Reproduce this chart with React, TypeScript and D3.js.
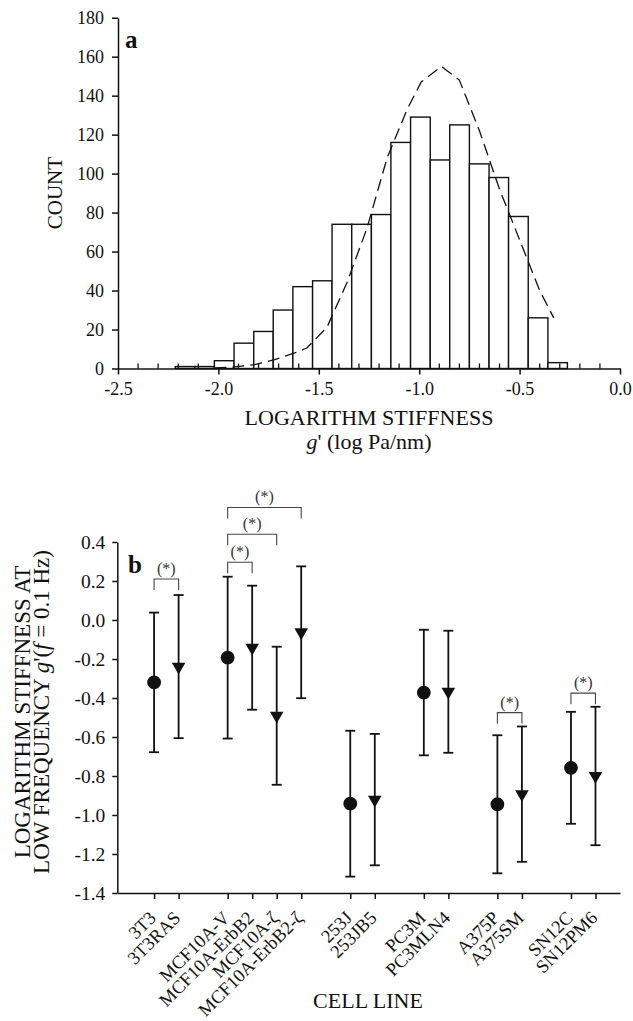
import React, { useRef, useEffect } from 'react';
import * as d3 from 'd3';

// ---- panel a: histogram of log stiffness ----
const binEdges = [-2.215, -2.117, -2.02, -1.922, -1.824, -1.727, -1.629, -1.531, -1.434, -1.336, -1.238,
  -1.141, -1.043, -0.945, -0.848, -0.75, -0.652, -0.555, -0.457, -0.359, -0.262];
const counts = [1, 1, 4, 13, 19, 30, 42, 45, 74, 74, 79, 116, 129, 107, 125, 105, 98, 78, 26, 3];
const fitX = [-2.02, -1.92, -1.82, -1.72, -1.62, -1.56, -1.46, -1.36, -1.26, -1.16, -1.06, -0.99, -0.89,
  -0.8, -0.7, -0.6, -0.5, -0.4, -0.33];
const fitY = [0.3, 0.8, 2, 4.5, 8, 10.5, 21, 44, 72, 108, 133, 147, 155, 148, 122, 92, 66, 40, 26];
const xTicksA = [-2.5, -2.0, -1.5, -1.0, -0.5, 0.0];
const yTicksA = [0, 20, 40, 60, 80, 100, 120, 140, 160, 180];

// ---- panel b: stiffness per cell line ----
const cellLines = ['3T3', '3T3RAS', 'MCF10A-V', 'MCF10A-ErbB2', 'MCF10A-ζ', 'MCF10A-ErbB2-ζ', '253J', '253JB5',
  'PC3M', 'PC3MLN4', 'A375P', 'A375SM', 'SN12C', 'SN12PM6'];
const cellPos = [1, 2, 4, 5, 6, 7, 9, 10, 12, 13, 15, 16, 18, 19];
const markerKind = ['circle', 'triangle', 'circle', 'triangle', 'triangle', 'triangle', 'circle', 'triangle',
  'circle', 'triangle', 'circle', 'triangle', 'circle', 'triangle'];
const means = [-0.32, -0.239, -0.193, -0.142, -0.491, -0.063, -0.942, -0.921, -0.372, -0.368, -0.945, -0.893, -0.758, -0.8];
const sds = [0.358, 0.367, 0.415, 0.318, 0.354, 0.338, 0.374, 0.337, 0.322, 0.313, 0.354, 0.347, 0.287, 0.355];
const yTicksB = [0.4, 0.2, 0.0, -0.2, -0.4, -0.6, -0.8, -1.0, -1.2, -1.4];
// significance brackets: [from index, to index, level]
const brackets: [number, number, number][] = [
  [0, 1, 0.21], [2, 3, 0.296], [2, 4, 0.44], [2, 5, 0.577], [10, 11, -0.475], [12, 13, -0.375],
];

const FONT = '"Liberation Serif", "Times New Roman", Times, serif';
const INK = '#111';

export default function App() {
  const svgRef = useRef<SVGSVGElement>(null);

  useEffect(() => {
    const svg = d3.select(svgRef.current);
    svg.selectAll('*').remove();

    // axis helper: d3 puts sans-serif on the group, override it
    const styleAxis = (g, size) => {
      g.attr('font-family', FONT).style('font-family', FONT).attr('font-size', size);
      g.selectAll('text').style('font-family', FONT).attr('font-size', size);
      g.selectAll('line,path').attr('stroke-width', 1.5);
    };

    // ================= panel a =================
    const xA = d3.scaleLinear().domain([-2.5, 0]).range([118, 620]);
    const yA = d3.scaleLinear().domain([0, 180]).range([368.5, 17.7]);
    const gA = svg.append('g');

    gA.selectAll('.bar')
      .data(counts)
      .join('rect')
      .attr('class', 'bar')
      .attr('x', (d, i) => xA(binEdges[i]))
      .attr('width', (d, i) => xA(binEdges[i + 1]) - xA(binEdges[i]))
      .attr('y', d => yA(d))
      .attr('height', d => yA(0) - yA(d))
      .attr('fill', '#fff')
      .attr('stroke', INK)
      .attr('stroke-width', 1.4);

    const fitLine = d3.line<number>().x((d, i) => xA(fitX[i])).y(d => yA(d));
    gA.append('path')
      .attr('d', fitLine(fitY))
      .attr('fill', 'none')
      .attr('stroke', INK)
      .attr('stroke-width', 1.3)
      .attr('stroke-dasharray', '12,6');

    // minor ticks, pointing up
    const minor = d3.range(-24, 0).map(k => k / 10).filter(v => Math.abs(v * 2 - Math.round(v * 2)) > 1e-6);
    gA.selectAll('.minor')
      .data(minor)
      .join('line')
      .attr('x1', d => xA(d)).attr('x2', d => xA(d))
      .attr('y1', yA(0)).attr('y2', yA(0) - 5)
      .attr('stroke', INK).attr('stroke-width', 1.3);

    const xAxisA = d3.axisBottom(xA).tickValues(xTicksA).tickSize(6).tickSizeOuter(0).tickPadding(8)
      .tickFormat(d => (+d).toFixed(1));
    gA.append('g')
      .attr('transform', `translate(0,${yA(0)})`)
      .attr('color', INK)
      .call(xAxisA)
      .call(g => styleAxis(g, 18));

    const yAxisA = d3.axisLeft(yA).tickValues(yTicksA).tickSize(6).tickSizeOuter(0).tickPadding(8);
    gA.append('g')
      .attr('transform', `translate(${xA(-2.5)},0)`)
      .attr('color', INK)
      .call(yAxisA)
      .call(g => styleAxis(g, 18));

    const txt = (g, x, y, size) => g.append('text').attr('x', x).attr('y', y).attr('font-size', size)
      .style('font-family', FONT).attr('fill', INK);

    txt(gA, 125, 48, 25).attr('font-weight', 'bold').text('a');
    txt(gA, 0, 0, 21)
      .attr('transform', `translate(62,${(yA(0) + yA(180)) / 2}) rotate(-90)`)
      .attr('text-anchor', 'middle').text('COUNT');
    txt(gA, 369, 425, 22).attr('text-anchor', 'middle').text('LOGARITHM STIFFNESS');
    const sub = txt(gA, 369, 449, 22).attr('text-anchor', 'middle');
    sub.append('tspan').attr('font-style', 'italic').text('g');
    sub.append('tspan').text("' (log Pa/nm)");

    // ================= panel b =================
    const xB = d3.scaleLinear().domain([-0.5, 20]).range([117.3, 620]);
    const yB = d3.scaleLinear().domain([-1.4, 0.4]).range([893, 542]);
    const gB = svg.append('g');

    const xAxisB = d3.axisBottom(xB).tickValues(cellPos).tickSize(6).tickSizeOuter(0).tickFormat(() => '');
    gB.append('g')
      .attr('transform', `translate(0,${yB(-1.4)})`)
      .attr('color', INK)
      .call(xAxisB)
      .call(g => styleAxis(g, 18));

    const yAxisB = d3.axisLeft(yB).tickValues(yTicksB).tickSize(5).tickSizeOuter(0).tickPadding(7)
      .tickFormat(d => (+d).toFixed(1));
    gB.append('g')
      .attr('transform', `translate(${xB(-0.5)},0)`)
      .attr('color', INK)
      .call(yAxisB)
      .call(g => styleAxis(g, 19.5));

    // error bars
    const bars = gB.selectAll('.err').data(means).join('g').attr('class', 'err');
    bars.append('line')
      .attr('x1', (d, i) => xB(cellPos[i])).attr('x2', (d, i) => xB(cellPos[i]))
      .attr('y1', (d, i) => yB(d + sds[i])).attr('y2', (d, i) => yB(d - sds[i]))
      .attr('stroke', INK).attr('stroke-width', 1.8);
    [1, -1].forEach(s => {
      bars.append('line')
        .attr('x1', (d, i) => xB(cellPos[i]) - 5).attr('x2', (d, i) => xB(cellPos[i]) + 5)
        .attr('y1', (d, i) => yB(d + s * sds[i])).attr('y2', (d, i) => yB(d + s * sds[i]))
        .attr('stroke', INK).attr('stroke-width', 1.8);
    });

    // markers
    const tri = d3.symbol().type(d3.symbolTriangle).size(80);
    const circ = d3.symbol().type(d3.symbolCircle).size(150);
    gB.selectAll('.mark')
      .data(means)
      .join('path')
      .attr('class', 'mark')
      .attr('d', (d, i) => markerKind[i] === 'circle' ? circ() : tri())
      .attr('transform', (d, i) => `translate(${xB(cellPos[i])},${yB(d)})` + (markerKind[i] === 'triangle' ? ' rotate(180)' : ''))
      .attr('fill', INK);

    // significance brackets
    const br = gB.selectAll('.bracket').data(brackets).join('g').attr('class', 'bracket');
    br.append('path')
      .attr('d', d => {
        const x1 = xB(cellPos[d[0]]), x2 = xB(cellPos[d[1]]), y = yB(d[2]);
        return `M${x1},${y + 11}V${y}H${x2}V${y + 11}`;
      })
      .attr('fill', 'none').attr('stroke', '#444').attr('stroke-width', 1.1);
    br.append('text')
      .attr('x', d => (xB(cellPos[d[0]]) + xB(cellPos[d[1]])) / 2)
      .attr('y', d => yB(d[2]) - 5)
      .attr('text-anchor', 'middle').attr('font-size', 16).attr('fill', '#333')
      .style('font-family', FONT)
      .text('(*)');

    // category labels
    gB.selectAll('.cat')
      .data(cellLines)
      .join('text')
      .attr('class', 'cat')
      .attr('transform', (d, i) => `translate(${xB(cellPos[i]) + 3},${yB(-1.4) + 26}) rotate(-45)`)
      .attr('text-anchor', 'end').attr('font-size', 18.5)
      .style('font-family', FONT).attr('fill', INK)
      .text(d => d);

    txt(gB, 128, 573, 25).attr('font-weight', 'bold').text('b');

    const yMid = 712;
    txt(gB, 0, 0, 23)
      .attr('transform', `translate(30,${yMid}) rotate(-90)`)
      .attr('text-anchor', 'middle')
      .text('LOGARITHM STIFFNESS AT');
    const t2 = txt(gB, 0, 0, 23)
      .attr('transform', `translate(49,${yMid}) rotate(-90)`)
      .attr('text-anchor', 'middle');
    t2.append('tspan').text('LOW FREQUENCY ');
    t2.append('tspan').attr('font-style', 'italic').text('g');
    t2.append('tspan').text("'(");
    t2.append('tspan').attr('font-style', 'italic').text('f');
    t2.append('tspan').text(' = 0.1 Hz)');

    txt(gB, 368, 1008, 22).attr('text-anchor', 'middle').text('CELL LINE');
  }, []);

  return (
    <svg ref={svgRef} width={633} height={1021}
      style={{ position: 'absolute', left: 0, top: 0, background: '#fff' }} />
  );
}
